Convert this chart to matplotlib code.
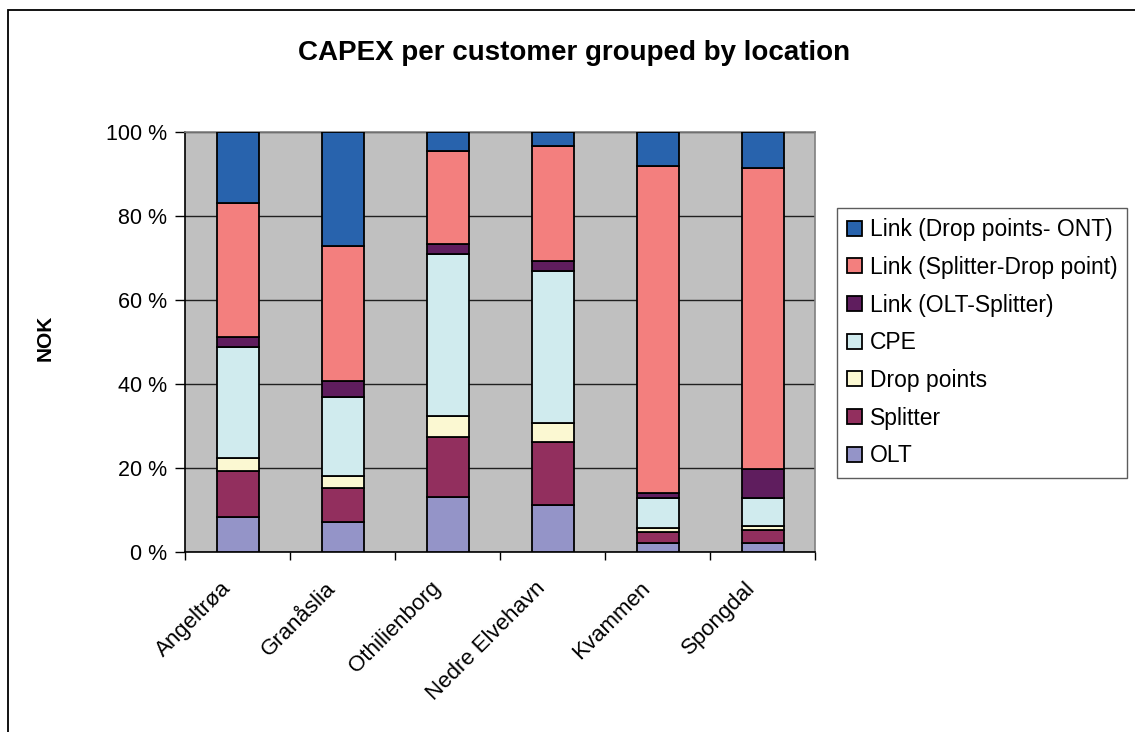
import matplotlib
matplotlib.use("Agg")
import matplotlib.pyplot as plt
import matplotlib.patches as mpatches
import numpy as np

plt.rcParams['font.family'] = ['Liberation Sans', 'DejaVu Sans']

locations = ["Angeltrøa", "Granåslia", "Othilienborg", "Nedre Elvehavn", "Kvammen", "Spongdal"]

# Share of CAPEX per customer (%), one list per cost component
olt = [8.4, 7.1, 13.0, 11.2, 2.1, 2.1]
splitter = [11.0, 8.1, 14.5, 15.0, 2.7, 3.1]
drop_points = [3.1, 2.9, 5.0, 4.6, 0.9, 1.0]
cpe = [26.2, 18.9, 38.5, 36.1, 7.2, 6.7]
link_olt_splitter = [2.4, 3.6, 2.3, 2.3, 1.1, 6.9]
link_splitter_drop = [32.1, 32.3, 22.2, 27.5, 77.9, 71.6]
link_drop_ont = [16.8, 27.1, 4.5, 3.3, 8.1, 8.6]

series_names = ["OLT", "Splitter", "Drop points", "CPE", "Link (OLT-Splitter)",
                "Link (Splitter-Drop point)", "Link (Drop points- ONT)"]
series_values = [olt, splitter, drop_points, cpe, link_olt_splitter,
                 link_splitter_drop, link_drop_ont]
series_colors = ["#9494C8", "#922F5E", "#FBF8D2", "#D0EBEE", "#5F1D5E", "#F37F7E", "#2863AD"]

W, H = 1135, 732
fig = plt.figure(figsize=(W / 100, H / 100), dpi=100)
fig.patch.set_facecolor("white")

# outer chart frame
fig.add_artist(mpatches.Rectangle((8 / W, -0.05), 1.1, 1 - 10 / H + 0.05,
                                  transform=fig.transFigure, fill=False,
                                  edgecolor="black", linewidth=1.3))

ax = fig.add_axes([185 / W, 1 - 552 / H, 630 / W, 420 / H])
ax.set_facecolor("#C0C0C0")

x = np.arange(len(locations))
bottom = np.zeros(len(locations))
handles = []
for name, vals, col in zip(series_names, series_values, series_colors):
    v = np.array(vals, dtype=float)
    bars = ax.bar(x, v, width=0.4, bottom=bottom, color=col, edgecolor="black",
                  linewidth=1.3, label=name, zorder=3)
    bottom += v
    handles.append(bars)

ax.set_xlim(-0.5, len(locations) - 0.5)
ax.set_ylim(0, 100)
ax.set_yticks([0, 20, 40, 60, 80, 100])
ax.set_yticklabels([f"{t} %" for t in [0, 20, 40, 60, 80, 100]], fontsize=15.5)
ax.yaxis.grid(True, color="#202020", linewidth=1.0, zorder=1)
ax.set_axisbelow(True)

# category ticks sit between the bars
ax.set_xticks(np.arange(len(locations) + 1) - 0.5)
ax.set_xticklabels([])
ax.tick_params(axis="x", direction="out", length=6, width=1, color="black")
ax.tick_params(axis="y", direction="out", length=7, width=1, color="black", pad=6)
for i, loc in enumerate(locations):
    ax.annotate(loc, xy=(i, 0), xycoords=("data", "axes fraction"),
                xytext=(-10, -33), textcoords="offset pixels",
                rotation=45, ha="right", va="center", rotation_mode="anchor",
                fontsize=16)

for side in ["top", "right"]:
    ax.spines[side].set_color("#808080")
    ax.spines[side].set_linewidth(1.2)
for side in ["left", "bottom"]:
    ax.spines[side].set_color("black")
    ax.spines[side].set_linewidth(1.2)

fig.text(574 / W, 1 - 53 / H, "CAPEX per customer grouped by location",
         ha="center", va="center", fontsize=20, fontweight="bold")
fig.text(45 / W, 1 - 338 / H, "NOK", rotation=90, ha="center", va="center",
         fontsize=15, fontweight="bold")

leg = fig.legend(handles[::-1], series_names[::-1], loc="upper left",
                 bbox_to_anchor=(837 / W, 1 - 208 / H), fontsize=16.5,
                 frameon=True, fancybox=False, borderaxespad=0,
                 handlelength=0.62, handleheight=0.62, handletextpad=0.35,
                 labelspacing=0.64, borderpad=0.45)
leg.get_frame().set_edgecolor("#333333")
leg.get_frame().set_linewidth(1.0)

fig.savefig("out.png", dpi=100, facecolor="white")
